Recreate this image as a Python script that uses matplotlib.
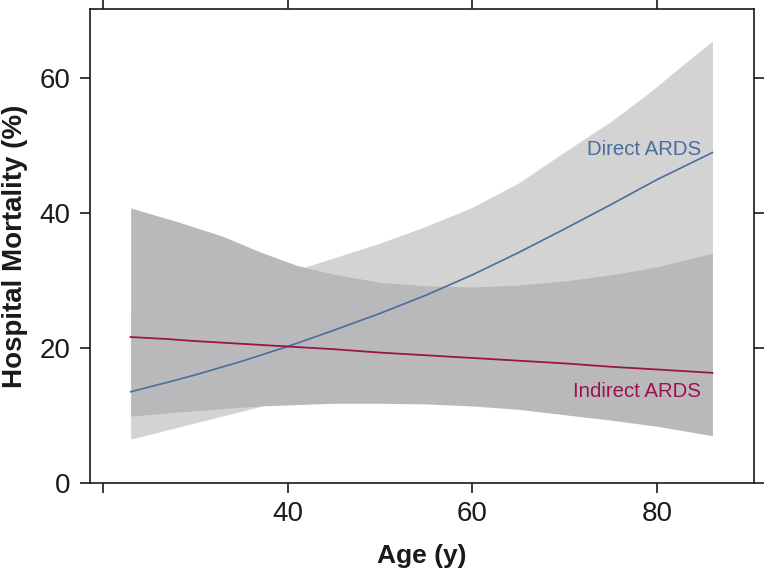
"""Hospital mortality vs age, direct vs indirect ARDS, with confidence bands."""

import matplotlib
matplotlib.use("Agg")
import matplotlib.pyplot as plt

# --- values ---------------------------------------------------------------
line_age = [23, 27, 30, 35, 40, 45, 50, 55, 60, 65, 70, 75, 80, 86]
direct_mort = [13.5, 14.9, 16.0, 18.0, 20.2, 22.6, 25.1, 27.8, 30.8, 34.1,
               37.6, 41.2, 44.9, 48.9]
indirect_mort = [21.6, 21.3, 21.0, 20.6, 20.2, 19.8, 19.3, 18.9, 18.5, 18.1,
                 17.7, 17.2, 16.8, 16.3]

direct_band_age = [23, 30, 37, 42, 50, 55, 60, 65, 70, 75, 79, 83, 86]
direct_lo = [6.5, 8.9, 11.3, 13.5, 17.0, 19.2, 21.5, 23.5, 25.5, 27.5, 29.0,
             30.5, 31.5]
direct_hi = [25.0, 27.0, 29.5, 32.0, 35.5, 38.0, 40.8, 44.4, 49.0, 53.5, 57.6,
             62.1, 65.4]

indirect_band_age = [23, 28, 33, 37, 41, 45, 50, 55, 60, 65, 70, 75, 80, 86]
indirect_lo = [9.9, 10.5, 11.0, 11.4, 11.6, 11.8, 11.8, 11.7, 11.4, 10.9,
               10.1, 9.3, 8.4, 7.0]
indirect_hi = [40.7, 38.7, 36.5, 34.2, 32.2, 30.9, 29.7, 29.2, 29.0, 29.3,
               29.9, 30.8, 32.0, 34.0]

x_ticks = [20, 40, 60, 80]
x_ticklabels = ["", "40", "60", "80"]
y_ticks = [0, 20, 40, 60]

# --- style ----------------------------------------------------------------
INK = "#1a1a1a"
BLUE = "#4a6da0"
RED = "#9b1446"
LIGHT = "#d3d3d3"
DARK = "#b9b9bb"

plt.rcParams["font.family"] = ["Liberation Sans", "DejaVu Sans"]

fig = plt.figure(figsize=(7.64, 5.71), dpi=100)
ax = fig.add_axes([90 / 764, 88 / 571, 664 / 764, 473.7 / 571])

ax.fill_between(direct_band_age, direct_lo, direct_hi, color=LIGHT, linewidth=0, zorder=1)
ax.fill_between(indirect_band_age, indirect_lo, indirect_hi, color=DARK, linewidth=0, zorder=2)
ax.plot(line_age, direct_mort, color=BLUE, linewidth=1.2, zorder=3)
ax.plot(line_age, indirect_mort, color=RED, linewidth=1.3, zorder=3)

ax.text(84.8, 48.6, "Direct ARDS", color=BLUE, fontsize=14.7, ha="right", va="baseline")
ax.text(84.8, 12.8, "Indirect ARDS", color=RED, fontsize=14.7, ha="right", va="baseline")

ax.set_xlim(18.6, 90.5)
ax.set_ylim(0, 70.1)
ax.set_xticks(x_ticks, x_ticklabels)
ax.set_yticks(y_ticks)

for side in ax.spines.values():
    side.set_color(INK)
    side.set_linewidth(1.2)
ax.tick_params(direction="out", length=7, width=1.2, colors=INK, labelsize=20,
               top=True, right=True)
ax.tick_params(axis="x", pad=6)
ax.tick_params(axis="y", pad=7)

ax.set_xlabel("Age (y)", fontsize=19, fontweight="bold", color=INK, labelpad=12)
ax.set_ylabel("Hospital Mortality (%)", fontsize=20, fontweight="bold", color=INK, labelpad=8)

fig.savefig("out.png", dpi=100, facecolor="white")
